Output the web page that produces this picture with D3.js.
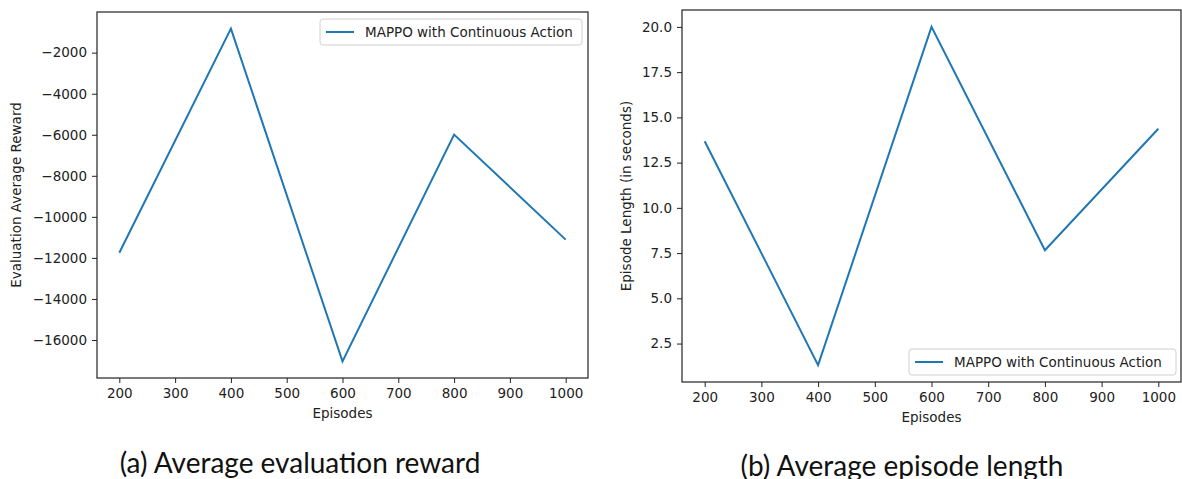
<!DOCTYPE html>
<html lang="en">
<head>
<meta charset="UTF-8">
<title>MAPPO results</title>
<script src="https://cdnjs.cloudflare.com/ajax/libs/d3/7.8.5/d3.min.js"></script>
<style>
    body { margin: 0; background: #fff; }
    svg text { font-family: "DejaVu Sans", sans-serif; fill: #222; }
    .caption { font-family: "Lato", sans-serif; font-size: 28px; fill: #111; }
</style>
</head>
<body>
<svg id="chart" width="1182" height="479"></svg>
<script>
// data
var episodes = [200, 400, 600, 800, 1000];
var rewardValues = [-11750, -830, -17040, -5990, -11110];
var lengthValues = [13.68, 1.31, 20.0, 7.66, 14.37];
var xTicks = [200, 300, 400, 500, 600, 700, 800, 900, 1000];
var rewardTicks = [-16000, -14000, -12000, -10000, -8000, -6000, -4000, -2000];
var lengthTicks = [2.5, 5.0, 7.5, 10.0, 12.5, 15.0, 17.5, 20.0];
var seriesName = "MAPPO with Continuous Action";

var svg = d3.select("#chart");

function panel(opt) {
    var g = svg.append("g");
    var x = d3.scaleLinear().domain([160, 1040]).range([opt.left, opt.right]);
    var lo = d3.min(opt.values), hi = d3.max(opt.values), pad = (hi - lo) * 0.05;
    var y = d3.scaleLinear().domain([lo - pad, hi + pad]).range([opt.bottom, opt.top]);

    // x axis
    var xa = g.append("g").attr("transform", "translate(0," + opt.bottom + ")")
        .call(d3.axisBottom(x).tickValues(xTicks).tickSize(5).tickPadding(5).tickFormat(d3.format("d")));
    // y axis
    var ya = g.append("g").attr("transform", "translate(" + opt.left + ",0)")
        .call(d3.axisLeft(y).tickValues(opt.ticks).tickSize(5).tickPadding(5).tickFormat(opt.fmt));
    [xa, ya].forEach(function (a) {
        a.select(".domain").remove();
        a.selectAll("line").attr("stroke", "#222").attr("stroke-width", 1);
        a.selectAll("text").attr("font-size", 13.5).attr("fill", "#222")
            .style("font-family", "DejaVu Sans");
    });

    // frame
    g.append("rect")
        .attr("x", opt.left).attr("y", opt.top)
        .attr("width", opt.right - opt.left).attr("height", opt.bottom - opt.top)
        .attr("fill", "none").attr("stroke", "#222").attr("stroke-width", 1.2);

    // line
    var line = d3.line().x(function (d, i) { return x(episodes[i]); }).y(function (d) { return y(d); });
    g.append("path").datum(opt.values)
        .attr("d", line).attr("fill", "none")
        .attr("stroke", "#1f77b4").attr("stroke-width", 2);

    // axis labels
    g.append("text").attr("x", (opt.left + opt.right) / 2).attr("y", opt.bottom + 40)
        .attr("text-anchor", "middle").attr("font-size", 13.5).text("Episodes");
    g.append("text")
        .attr("transform", "translate(" + opt.ylabX + "," + ((opt.top + opt.bottom) / 2) + ") rotate(-90)")
        .attr("text-anchor", "middle").attr("font-size", 13.5).text(opt.ylabel);

    // legend
    var lg = g.append("g").attr("transform", "translate(" + opt.legX + "," + opt.legY + ")");
    lg.append("rect").attr("width", opt.legW).attr("height", 26).attr("rx", 3)
        .attr("fill", "#fff").attr("fill-opacity", 0.8).attr("stroke", "#d0d0d0");
    lg.append("line").attr("x1", 6).attr("x2", 34).attr("y1", 13).attr("y2", 13)
        .attr("stroke", "#1f77b4").attr("stroke-width", 2);
    lg.append("text").attr("x", 45).attr("y", 18).attr("font-size", 13.5).text(seriesName);

    // caption
    svg.append("text").attr("class", "caption")
        .attr("x", opt.capX).attr("y", opt.capY).attr("text-anchor", "middle").text(opt.caption);
}

panel({
    left: 97, right: 588, top: 12, bottom: 378,
    values: rewardValues, ticks: rewardTicks,
    fmt: function (d) { return d3.format("d")(d).replace("-", "\u2212"); },
    ylabel: "Evaluation Average Reward", ylabX: 21,
    legX: 320, legY: 19, legW: 262,
    caption: "(a) Average evaluation reward", capX: 300, capY: 473
});

panel({
    left: 682, right: 1181, top: 10, bottom: 382,
    values: lengthValues, ticks: lengthTicks,
    fmt: d3.format(".1f"),
    ylabel: "Episode Length (in seconds)", ylabX: 631,
    legX: 909, legY: 349, legW: 267,
    caption: "(b) Average episode length", capX: 902, capY: 476
});
</script>
</body>
</html>
